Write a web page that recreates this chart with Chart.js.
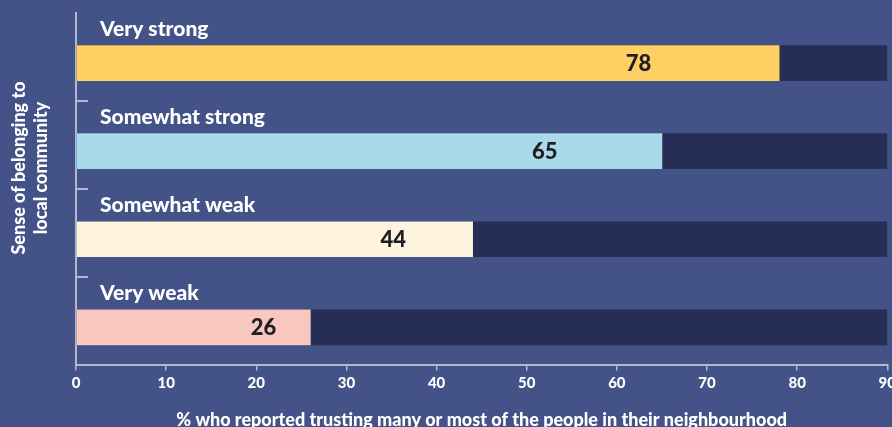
<!DOCTYPE html>
<html>
<head>
<meta charset="utf-8">
<script src="https://cdn.jsdelivr.net/npm/chart.js@4.4.1/dist/chart.umd.min.js"></script>
<style>
    html, body { margin: 0; padding: 0; background: #435387; overflow: hidden; }
    #wrap { position: absolute; left: 0; top: 0; width: 900px; height: 431px; }
</style>
</head>
<body>
<div id="wrap"><canvas id="chart"></canvas></div>
<script>
// Data
const categories = ['Very strong', 'Somewhat strong', 'Somewhat weak', 'Very weak'];
const trustShare = [78, 65, 44, 26];
const trackValues = [90, 90, 90, 90];
const barColors = ['#fed064', '#a9daea', '#fef3dc', '#f8c7bd'];
const axisTitle = '% who reported trusting many or most of the people in their neighbourhood';
const yTitleLines = ['Sense of belonging to', 'local community'];

const axisColor = '#b3b9d2';
const fontFamily = 'Lato, "Noto Sans", sans-serif';
const barShift = 6; // bars sit a bit under the middle of each band

// texte des catégories, valeurs et titre vertical
const labelPlugin = {
    id: 'labelPlugin',
    beforeDatasetsDraw(chart) {
        chart.ctx.save();
        chart.ctx.translate(0, barShift);
    },
    afterDatasetsDraw(chart) {
        const ctx = chart.ctx;
        ctx.restore();
        const area = chart.chartArea;
        const xScale = chart.scales.x;
        const yScale = chart.scales.y;
        const meta = chart.getDatasetMeta(1);

        ctx.save();
        // petites marques entre les bandes
        ctx.strokeStyle = axisColor;
        ctx.lineWidth = 2;
        for (let i = 1; i < categories.length; i++) {
            const y = Math.round((yScale.getPixelForTick(i - 1) + yScale.getPixelForTick(i)) / 2);
            ctx.beginPath();
            ctx.moveTo(area.left - 1, y);
            ctx.lineTo(area.left + 12, y);
            ctx.stroke();
        }

        meta.data.forEach((bar, i) => {
            const top = bar.y - bar.height / 2 + barShift;
            ctx.fillStyle = '#ffffff';
            ctx.font = `900 21px ${fontFamily}`;
            ctx.textAlign = 'left';
            ctx.textBaseline = 'alphabetic';
            ctx.fillText(categories[i], area.left + 24, top - 10);

            ctx.fillStyle = '#1e1e24';
            ctx.font = `900 22px ${fontFamily}`;
            ctx.textAlign = 'center';
            ctx.textBaseline = 'middle';
            ctx.fillText(trustShare[i], xScale.getPixelForValue(trustShare[i] * 0.8), bar.y + barShift + 1);
        });

        // titre de l'axe vertical
        ctx.fillStyle = '#ffffff';
        ctx.font = `900 18px ${fontFamily}`;
        ctx.textAlign = 'center';
        ctx.textBaseline = 'middle';
        ctx.translate(30, 168);
        ctx.rotate(-Math.PI / 2);
        ctx.fillText(yTitleLines[0], 0, -11);
        ctx.fillText(yTitleLines[1], 0, 11);
        ctx.restore();
    }
};

const ctx = document.getElementById('chart').getContext('2d');
const chart = new Chart(ctx, {
    type: 'bar',
    data: {
        labels: categories,
        datasets: [{
            data: trackValues,
            backgroundColor: '#262e56',
            barThickness: 35,
            grouped: false,
            order: 2
        }, {
            data: trustShare,
            backgroundColor: barColors,
            barThickness: 35,
            grouped: false,
            order: 1
        }]
    },
    options: {
        indexAxis: 'y',
        responsive: true,
        maintainAspectRatio: false,
        animation: false,
        layout: {
            padding: { left: 76, top: 13, right: 0, bottom: 0 }
        },
        plugins: {
            legend: { display: false },
            tooltip: { enabled: false }
        },
        scales: {
            x: {
                min: 0,
                max: 90,
                ticks: {
                    stepSize: 10,
                    color: '#ffffff',
                    padding: 4,
                    font: { family: fontFamily, size: 15, weight: '900' }
                },
                grid: {
                    drawOnChartArea: false,
                    color: axisColor,
                    tickLength: 5,
                    lineWidth: 1.5
                },
                border: { display: true, color: axisColor, width: 2 },
                title: {
                    display: true,
                    text: axisTitle,
                    color: '#ffffff',
                    padding: { top: 13, bottom: 0 },
                    font: { family: fontFamily, size: 18, weight: '900' }
                }
            },
            y: {
                ticks: { display: false },
                grid: { display: false, drawTicks: false },
                border: { display: true, color: axisColor, width: 2 }
            }
        }
    },
    plugins: [labelPlugin]
});
</script>
</body>
</html>
